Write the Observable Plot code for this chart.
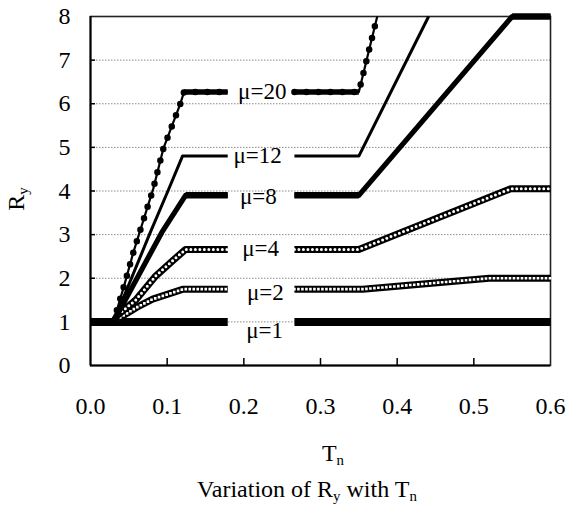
<!DOCTYPE html>
<html>
<head>
<meta charset="utf-8">
<script src="https://cdn.jsdelivr.net/npm/d3@7"></script>
<script src="https://cdn.jsdelivr.net/npm/@observablehq/plot@0.6"></script>
<style>
  html, body { margin: 0; padding: 0; background: white; }
  #wrap { position: relative; width: 567px; height: 511px; font-family: "Liberation Serif", "Times New Roman", serif; color: black; }
  #chart svg, #chart svg text { font-family: "Liberation Serif", "Times New Roman", serif !important; }
  .lab { position: absolute; font-size: 24px; line-height: 24px; white-space: nowrap; }
  .lab sub { font-size: 0.62em; vertical-align: -0.25em; line-height: 0; }
</style>
</head>
<body>
<div id="wrap">
  <div id="chart"></div>
  <div class="lab" style="left:-4px; top:187px; width:40px; text-align:center; transform: rotate(-90deg);">R<sub>y</sub></div>
  <div class="lab" style="left:233px; top:441px; width:200px; text-align:center;">T<sub>n</sub></div>
  <div class="lab" style="left:157px; top:477px; width:300px; text-align:center;">Variation of R<sub>y</sub> with T<sub>n</sub></div>
</div>
<script>
// ---- data ----
const xTicks = [0, 0.1, 0.2, 0.3, 0.4, 0.5, 0.6];
const xInnerTicks = [0.1, 0.2, 0.3, 0.4, 0.5];
const yTicks = [0, 1, 2, 3, 4, 5, 6, 7, 8];
const yGrid = [1, 2, 3, 4, 5, 6, 7];
const labelGap = [0.179, 0.266];   // lines are interrupted where the μ labels sit

const mu1T  = [0.0, 0.179, 0.266, 0.6];
const mu1R  = [1.0, 1.0, 1.0, 1.0];

const mu2T  = [0.03, 0.037, 0.06, 0.081, 0.121, 0.179, 0.266, 0.355, 0.52, 0.6];
const mu2R  = [1.0, 1.08, 1.33, 1.52, 1.75, 1.75, 1.75, 1.75, 2.0, 2.0];

const mu4T  = [0.03, 0.035, 0.059, 0.085, 0.107, 0.124, 0.179, 0.266, 0.35, 0.548, 0.6];
const mu4R  = [1.0, 1.15, 1.5, 2.05, 2.4, 2.66, 2.66, 2.66, 2.66, 4.05, 4.05];

const mu8T  = [0.03, 0.033, 0.093, 0.124, 0.179, 0.266, 0.35, 0.55, 0.6];
const mu8R  = [1.0, 1.1, 3.05, 3.9, 3.9, 3.9, 3.9, 8.0, 8.0];

const mu12T = [0.03, 0.078, 0.101, 0.12, 0.179, 0.266, 0.35, 0.441];
const mu12R = [1.0, 3.05, 4.0, 4.8, 4.8, 4.8, 4.8, 8.0];

const mu20T = [0.03, 0.045, 0.056, 0.082, 0.095, 0.117, 0.122, 0.179, 0.266, 0.35, 0.374];
const mu20R = [1.0, 1.9, 2.6, 4.06, 4.97, 5.99, 6.27, 6.27, 6.27, 6.27, 8.0];

const labelMu = [20, 12, 8, 4, 2, 1];
const labelT  = [0.224, 0.218, 0.219, 0.222, 0.228, 0.227];
const labelR  = [6.27, 4.82, 3.86, 2.67, 1.66, 0.8];

// ---- tables built from the arrays ----
function rows(T, R) {
  return T.map((t, i) => ({T: t, R: R[i], part: t <= labelGap[0] ? 0 : 1}));
}
function flats(T, R) {
  const out = [];
  for (let i = 0; i < T.length - 1; i++) {
    const spansGap = T[i] <= labelGap[0] && T[i + 1] >= labelGap[1];
    if (!spansGap && R[i] === R[i + 1]) out.push({T1: T[i], R1: R[i], T2: T[i + 1], R2: R[i + 1]});
  }
  return out;
}
const d1 = rows(mu1T, mu1R), d2 = rows(mu2T, mu2R), d4 = rows(mu4T, mu4R);
const d8 = rows(mu8T, mu8R), d12 = rows(mu12T, mu12R), d20 = rows(mu20T, mu20R);
const labels = labelMu.map((m, i) => ({mu: m, T: labelT[i], R: labelR[i]}));

const serif = "Liberation Serif, Times New Roman, serif";
const L = (data, o) => Plot.line(data, {x: "T", y: "R", z: "part", stroke: "black", ...o});

const chart = Plot.plot({
  width: 567,
  height: 420,
  marginLeft: 90,
  marginRight: 17,
  marginTop: 16,
  marginBottom: 55,
  x: {domain: [0, 0.6]},
  y: {domain: [0, 8]},
  style: {fontFamily: serif, fontSize: "24px", background: "white", color: "black", overflow: "visible"},
  marks: [
    Plot.ruleY(yGrid, {stroke: "#8a8a8a", strokeWidth: 1, strokeDasharray: "1.5,1.5"}),
    Plot.frame({stroke: "#222", strokeWidth: 1.6}),
    Plot.ruleX([0], {stroke: "black", strokeWidth: 2}),
    Plot.ruleY([0], {stroke: "black", strokeWidth: 2}),
    Plot.ruleX(xInnerTicks, {y1: 0, y2: 0, insetTop: -7, stroke: "black", strokeWidth: 1.5}),
    Plot.ruleY(yGrid, {x1: 0, x2: 0, insetRight: -5, stroke: "black", strokeWidth: 1.5}),
    Plot.axisX(xTicks, {tickSize: 0, tickPadding: 31, tickFormat: d3.format(".1f"), label: null, fontSize: 24, fontFamily: serif}),
    Plot.axisY(yTicks, {tickSize: 0, tickPadding: 20, label: null, fontSize: 24, fontFamily: serif}),

    // μ=1 : filled diamonds (dense -> thick band)
    L(d1, {strokeWidth: 8, strokeLinecap: "butt"}),
    // μ=2 : open squares
    L(d2, {strokeWidth: 7, strokeLinecap: "butt"}),
    L(d2, {stroke: "white", strokeWidth: 2.6, strokeLinecap: "square", strokeDasharray: "0,4"}),
    // μ=4 : open circles
    L(d4, {strokeWidth: 7, strokeLinecap: "butt"}),
    L(d4, {stroke: "white", strokeWidth: 3, strokeLinecap: "round", strokeDasharray: "0,4.5"}),
    // μ=8 : thick line
    L(d8, {strokeWidth: 5.2, strokeLinecap: "butt"}),
    Plot.link(flats(mu8T, mu8R), {x1: "T1", y1: "R1", x2: "T2", y2: "R2", stroke: "black", strokeWidth: 6.5}),
    // μ=12 : plain line
    L(d12, {strokeWidth: 3, strokeLinecap: "butt"}),
    // μ=20 : line with filled dots
    L(d20, {strokeWidth: 2.2, strokeLinecap: "butt"}),
    L(d20, {strokeWidth: 6.5, strokeLinecap: "round", strokeDasharray: "0,12"}),
    Plot.link(flats(mu20T, mu20R), {x1: "T1", y1: "R1", x2: "T2", y2: "R2", stroke: "black", strokeWidth: 5.5}),

    Plot.text(labels, {x: "T", y: "R", text: d => "μ=" + d.mu, fontSize: 23, fontFamily: serif, textAnchor: "middle", lineAnchor: "middle", fill: "black"})
  ]
});
document.getElementById("chart").appendChild(chart);
</script>
</body>
</html>
